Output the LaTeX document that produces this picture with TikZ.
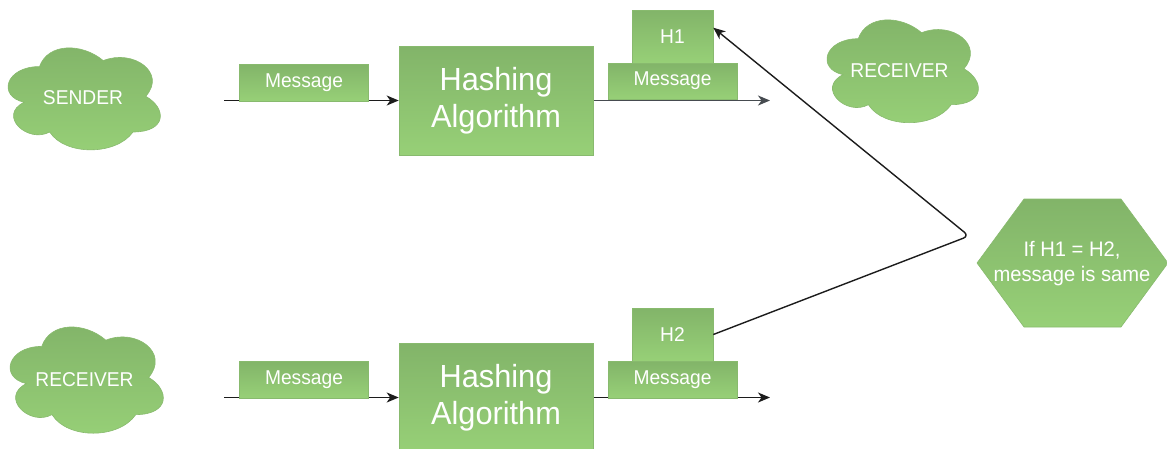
\documentclass[tikz,border=0pt]{standalone}
\usepackage{fontspec}
\setmainfont{Liberation Sans}[FakeStretch=0.96]
\usetikzlibrary{arrows.meta,calc,backgrounds}

\definecolor{leaftop}{HTML}{82B469}
\definecolor{leafbot}{HTML}{97D077}
\definecolor{leafedge}{HTML}{88BA6E}
\definecolor{wire}{HTML}{1C1C1C}
\definecolor{wiregray}{HTML}{464B50}

\tikzset{
  leaf/.style={draw=leafedge, line width=0.6pt, top color=leaftop, bottom color=leafbot},
  blk/.style={leaf, inner sep=0pt, text=white, align=center},
  lbl/.style={text=white, align=center, inner sep=0pt},
  small/.style={font=\fontsize{20}{24}\selectfont},
  big/.style={font=\fontsize{32}{37}\selectfont},
  msgbox/.style={blk, small, minimum width=129pt, minimum height=37pt},
  hashbox/.style={blk, big, minimum width=194pt, minimum height=109pt},
  hbox/.style={blk, small, minimum width=81pt, minimum height=53pt},
  flow/.style={draw=wire, line width=1.6pt, -{Stealth[length=12pt,width=10pt,inset=3.5pt]}},
}

% cloud outline in a w x h frame whose top-left corner is (x0,y0)
\newcommand\puffcloud[4]{%
  \begin{scope}[shift={(#1,#2)}, xscale=#3, yscale=#4]
    \path[leaf] (0.25,0.25)
      .. controls (0.05,0.25) and (0,0.5) .. (0.16,0.55)
      .. controls (0,0.66) and (0.18,0.9) .. (0.31,0.8)
      .. controls (0.4,1) and (0.7,1) .. (0.8,0.8)
      .. controls (1,0.8) and (1,0.6) .. (0.875,0.5)
      .. controls (1,0.3) and (0.8,0.1) .. (0.625,0.2)
      .. controls (0.5,0.05) and (0.3,0.05) .. (0.25,0.25) -- cycle;
  \end{scope}}

\begin{document}
\begin{tikzpicture}[x=1pt, y=-1pt]
\useasboundingbox (0,0) rectangle (1167,448);

% clouds
\puffcloud{-3}{36.8}{170}{119}
\node[lbl, small] (sender) at (83,97.5) {SENDER};
\puffcloud{816}{8.7}{169}{120}
\node[lbl, small] (rcvtop) at (899.5,70.5) {RECEIVER};
\puffcloud{-1}{315.4}{171}{124}
\node[lbl, small] (rcvbot) at (84.5,380) {RECEIVER};

% upper row
\node[msgbox] (msgA) at (304,82.5) {Message};
\node[hashbox] (hashA) at (496,100.5) {Hashing\\Algorithm};
\node[msgbox, minimum height=36pt] (msgB) at (672.5,81) {Message};
\node[hbox] (h1) at (672.5,36.5) {H1};
\coordinate (startA) at (224,100.5);
\coordinate (endA) at (770,100.5);

% lower row
\node[msgbox] (msgC) at (304,379.5) {Message};
\node[hashbox] (hashB) at (496,397.5) {Hashing\\Algorithm};
\node[msgbox] (msgD) at (672.5,379.5) {Message};
\node[hbox] (h2) at (672.5,334.5) {H2};
\coordinate (startB) at (224,397.5);
\coordinate (endB) at (770,397.5);

% comparison
\path[leaf] (977,263) -- (1024,199) -- (1121,199) -- (1168,263) -- (1121,327) -- (1024,327) -- cycle;
\node[lbl, font=\fontsize{21}{25}\selectfont] (check) at (1072,264) {If H1 = H2,\\message is same};

% connectors
\coordinate (bend) at (969,236);
\begin{scope}[on background layer]
  \draw[flow] (startA) -- (hashA.west);
  \draw[flow, draw=wiregray] (hashA.east) -- (endA);
  \draw[flow] (startB) -- (hashB.west);
  \draw[flow] (hashB.east) -- (endB);
\end{scope}
\draw[flow, line width=1.4pt, rounded corners=6pt] (h2.east) -- (bend) -- ($(h1.north east)+(0,18)$);
\end{tikzpicture}
\end{document}
